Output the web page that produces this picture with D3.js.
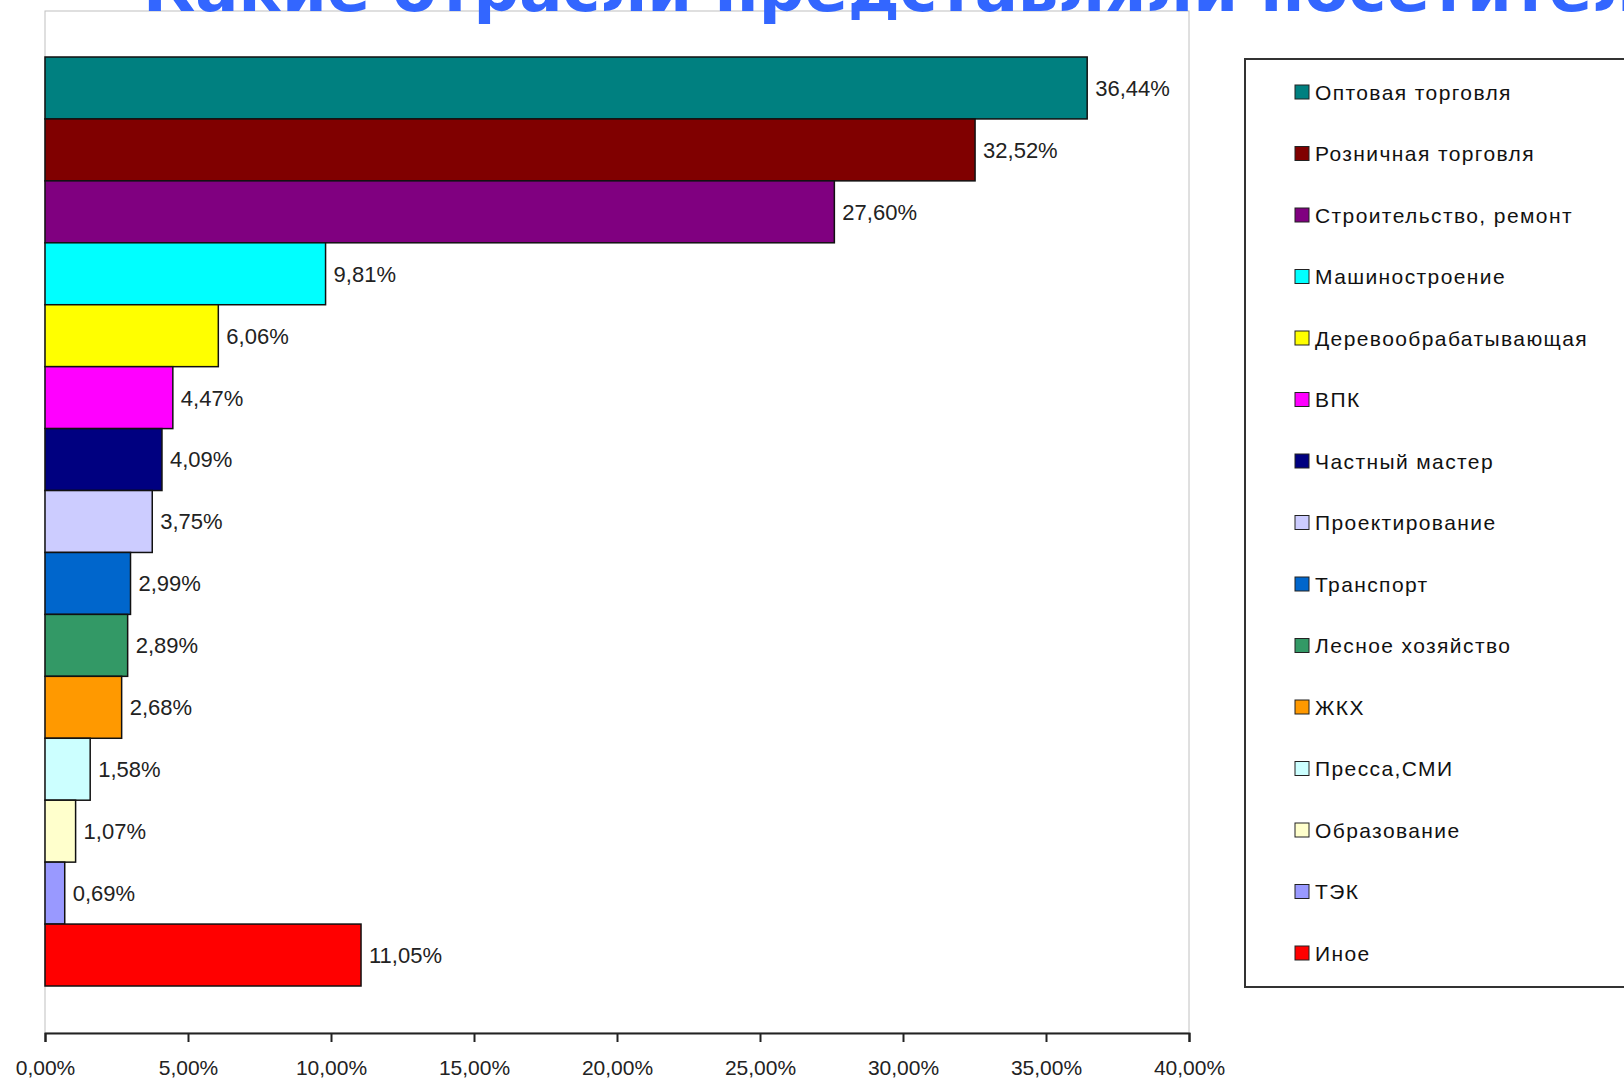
<!DOCTYPE html>
<html>
<head>
<meta charset="utf-8">
<script src="https://cdn.jsdelivr.net/npm/d3@7"></script>
<style>
  body { margin: 0; background: #fff; overflow: hidden; }
  svg { display: block; }
</style>
</head>
<body>
<div id="app"></div>
<script>
// chart data
const categories = [
  'Оптовая торговля', 'Розничная торговля', 'Строительство, ремонт', 'Машиностроение',
  'Деревообрабатывающая', 'ВПК', 'Частный мастер', 'Проектирование', 'Транспорт',
  'Лесное хозяйство', 'ЖКХ', 'Пресса,СМИ', 'Образование', 'ТЭК', 'Иное'
];
const values = [36.44, 32.52, 27.60, 9.81, 6.06, 4.47, 4.09, 3.75, 2.99, 2.89, 2.68, 1.58, 1.07, 0.69, 11.05];
const colors = [
  '#008080', '#800000', '#800080', '#00FFFF', '#FFFF00', '#FF00FF', '#000080', '#CCCCFF',
  '#0066CC', '#339966', '#FF9900', '#CCFFFF', '#FFFFCC', '#9999FF', '#FF0000'
];
const xTicks = [0, 5, 10, 15, 20, 25, 30, 35, 40];
const title = 'Какие отрасли представляли посетители?';

const W = 1624, H = 1079;
const plot = { left: 45, right: 1189, top: 11, bottom: 1033 };
const fmt = v => v.toFixed(2).replace('.', ',') + '%';

const svg = d3.select('#app').append('svg')
  .attr('width', W).attr('height', H);

const x = d3.scaleLinear().domain([0, 40]).range([plot.left, plot.right]);
const y = d3.scaleBand().domain(categories).range([57, 986]).padding(0);

// plot area frame
svg.append('rect')
  .attr('x', plot.left).attr('y', plot.top)
  .attr('width', plot.right - plot.left).attr('height', plot.bottom - plot.top)
  .attr('fill', '#fff').attr('stroke', '#c0c0c0').attr('stroke-width', 1);

// bars
svg.append('g').selectAll('rect')
  .data(categories)
  .join('rect')
    .attr('x', x(0))
    .attr('y', d => y(d))
    .attr('width', (d, i) => x(values[i]) - x(0))
    .attr('height', y.bandwidth())
    .attr('fill', (d, i) => colors[i])
    .attr('stroke', '#111')
    .attr('stroke-width', 1.5);

// value labels
svg.append('g').selectAll('text')
  .data(categories)
  .join('text')
    .attr('x', (d, i) => x(values[i]) + 8)
    .attr('y', d => y(d) + y.bandwidth() / 2)
    .attr('dy', '0.36em')
    .attr('font-family', 'Liberation Sans, Arial, sans-serif')
    .attr('font-size', 22)
    .attr('fill', '#222')
    .text((d, i) => fmt(values[i]));

// x axis
const axis = svg.append('g')
  .attr('transform', `translate(0,${plot.bottom})`)
  .call(d3.axisBottom(x).tickValues(xTicks).tickSize(9).tickPadding(18).tickFormat(d => fmt(d)));
axis.select('.domain').attr('stroke', '#222').attr('stroke-width', 2);
axis.selectAll('.tick line').attr('stroke', '#222').attr('stroke-width', 2);
axis.selectAll('.tick text')
  .attr('font-family', 'Liberation Sans, Arial, sans-serif')
  .attr('font-size', 21)
  .attr('fill', '#222');

// legend
const legend = svg.append('g');
legend.append('rect')
  .attr('x', 1245).attr('y', 59)
  .attr('width', 420).attr('height', 928)
  .attr('fill', '#fff').attr('stroke', '#333').attr('stroke-width', 2);

const ly = d3.scalePoint().domain(categories).range([92, 953]);
const item = legend.selectAll('g.item')
  .data(categories)
  .join('g')
    .attr('class', 'item')
    .attr('transform', d => `translate(1295,${ly(d)})`);
item.append('rect')
  .attr('x', 0).attr('y', -7)
  .attr('width', 14).attr('height', 14)
  .attr('fill', (d, i) => colors[i])
  .attr('stroke', '#222').attr('stroke-width', 1);
item.append('text')
  .attr('x', 20).attr('dy', '0.36em')
  .attr('font-family', 'Liberation Sans, Arial, sans-serif')
  .attr('font-size', 21)
  .attr('letter-spacing', 1.4)
  .attr('fill', '#111')
  .text(d => d);

// title, its top cut by the edge of the page as in the reference
svg.append('text')
  .attr('x', 143).attr('y', 11)
  .attr('font-family', 'DejaVu Sans, Verdana, sans-serif')
  .attr('font-weight', 'bold')
  .attr('font-size', 64)
  .attr('fill', '#3366FF')
  .text(title);
</script>
</body>
</html>
